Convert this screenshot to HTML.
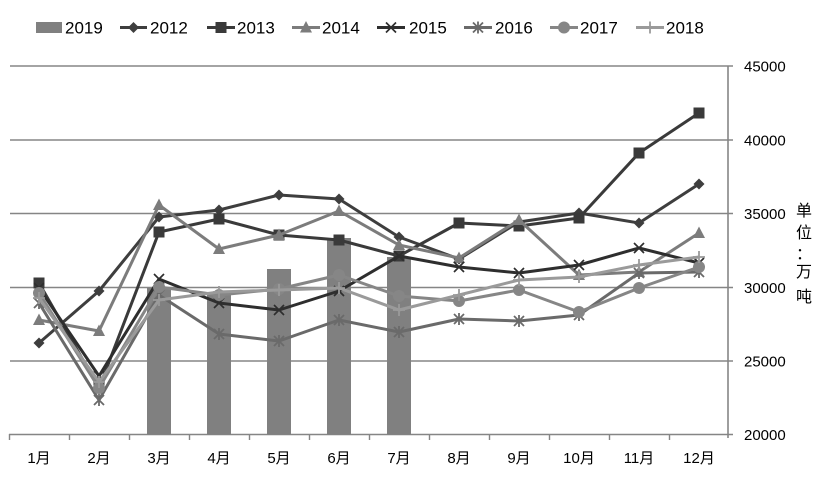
<!DOCTYPE html>
<html><head><meta charset="utf-8"><style>
html,body{margin:0;padding:0;background:#fff;}
svg{display:block;}
text{font-family:"Liberation Sans","Noto Sans CJK SC",sans-serif;fill:#000;}
</style></head><body>
<svg width="825" height="478" viewBox="0 0 825 478" xmlns="http://www.w3.org/2000/svg">
<defs>
<marker id="mD" markerUnits="userSpaceOnUse" markerWidth="14" markerHeight="14" refX="7" refY="7" overflow="visible"><path d="M7,1.5 L12.5,7 L7,12.5 L1.5,7 Z" fill="#3e3e3e"/></marker>
<marker id="mS" markerUnits="userSpaceOnUse" markerWidth="14" markerHeight="14" refX="7" refY="7" overflow="visible"><rect x="1.5" y="1.5" width="11" height="11" fill="#3a3a3a"/></marker>
<marker id="mT" markerUnits="userSpaceOnUse" markerWidth="14" markerHeight="14" refX="7" refY="7" overflow="visible"><path d="M7,0.5 L13,12 L1,12 Z" fill="#7c7c7c"/></marker>
<marker id="mX" markerUnits="userSpaceOnUse" markerWidth="14" markerHeight="14" refX="7" refY="7" overflow="visible"><path d="M2,2 L12,12 M12,2 L2,12" stroke="#2e2e2e" stroke-width="1.7"/></marker>
<marker id="mA" markerUnits="userSpaceOnUse" markerWidth="14" markerHeight="14" refX="7" refY="7" overflow="visible"><path d="M2,2 L12,12 M12,2 L2,12 M7,1 L7,13" stroke="#6a6a6a" stroke-width="1.8"/></marker>
<marker id="mC" markerUnits="userSpaceOnUse" markerWidth="14" markerHeight="14" refX="7" refY="7" overflow="visible"><circle cx="7" cy="7" r="6" fill="#868686"/></marker>
<marker id="mP" markerUnits="userSpaceOnUse" markerWidth="14" markerHeight="14" refX="7" refY="7" overflow="visible"><path d="M1,7 L13,7 M7,1 L7,13" stroke="#9a9a9a" stroke-width="1.8"/></marker>
</defs>

<g stroke="#858585" stroke-width="1.6">
<line x1="10" y1="66" x2="733" y2="66"/>
<line x1="10" y1="140" x2="733" y2="140"/>
<line x1="10" y1="213.5" x2="733" y2="213.5"/>
<line x1="10" y1="287.5" x2="733" y2="287.5"/>
<line x1="10" y1="361" x2="733" y2="361"/>
<line x1="9" y1="434.5" x2="733" y2="434.5"/>
<line x1="728" y1="66" x2="728" y2="438"/>
</g>
<g stroke="#858585" stroke-width="1.4">
<line x1="9.5" y1="434" x2="9.5" y2="440"/>
<line x1="69.5" y1="434" x2="69.5" y2="440"/>
<line x1="129.5" y1="434" x2="129.5" y2="440"/>
<line x1="189.5" y1="434" x2="189.5" y2="440"/>
<line x1="249.5" y1="434" x2="249.5" y2="440"/>
<line x1="309.5" y1="434" x2="309.5" y2="440"/>
<line x1="369.5" y1="434" x2="369.5" y2="440"/>
<line x1="429.5" y1="434" x2="429.5" y2="440"/>
<line x1="489.5" y1="434" x2="489.5" y2="440"/>
<line x1="549.5" y1="434" x2="549.5" y2="440"/>
<line x1="609.5" y1="434" x2="609.5" y2="440"/>
<line x1="669.5" y1="434" x2="669.5" y2="440"/>
</g>

<g fill="#808080">
<rect x="147" y="288" width="24" height="146.5"/>
<rect x="207" y="293" width="24" height="141.5"/>
<rect x="267" y="269" width="24" height="165.5"/>
<rect x="327" y="238" width="24" height="196.5"/>
<rect x="387" y="257" width="24" height="177.5"/>
</g>

<g fill="none" stroke-width="3" stroke-linejoin="round">
<polyline stroke="#3e3e3e" marker-start="url(#mD)" marker-mid="url(#mD)" marker-end="url(#mD)" points="39,343 99,291 159,217 219,210 279,195 339,199 399,237 459,259 519,222 579,213 639,223 699,184"/>
<polyline stroke="#3a3a3a" marker-start="url(#mS)" marker-mid="url(#mS)" marker-end="url(#mS)" points="39,283 99,388 159,232 219,219 279,235 339,240 399,256 459,223 519,226 579,218 639,153 699,113"/>
<polyline stroke="#7c7c7c" marker-start="url(#mT)" marker-mid="url(#mT)" marker-end="url(#mT)" points="39,320 99,331 159,205 219,249 279,235 339,211 399,245 459,258 519,220 579,275 639,272 699,233"/>
<polyline stroke="#2e2e2e" marker-start="url(#mX)" marker-mid="url(#mX)" marker-end="url(#mX)" points="39,288 99,376 159,279 219,303 279,310 339,291 399,256 459,267 519,273 579,265 639,248 699,263"/>
<polyline stroke="#6a6a6a" marker-start="url(#mA)" marker-mid="url(#mA)" marker-end="url(#mA)" points="39,303 99,400 159,295 219,334 279,341 339,320 399,332 459,319 519,321 579,315 639,273 699,272"/>
<polyline stroke="#868686" marker-start="url(#mC)" marker-mid="url(#mC)" marker-end="url(#mC)" points="39,293 99,388 159,287 219,295 279,289 339,275 399,296 459,301 519,290 579,312 639,288 699,267"/>
<polyline stroke="#9a9a9a" marker-start="url(#mP)" marker-mid="url(#mP)" marker-end="url(#mP)" points="39,298 99,382 159,300 219,292 279,290 339,288 399,310 459,295 519,280 579,277 639,265 699,257"/>
</g>

<rect x="36" y="22" width="26" height="11" fill="#808080"/>
<g fill="none" stroke-width="3">
<polyline stroke="#3e3e3e" marker-mid="url(#mD)" points="120,27.5 133.5,27.5 147,27.5"/>
<polyline stroke="#3a3a3a" marker-mid="url(#mS)" points="207,27.5 221,27.5 235,27.5"/>
<polyline stroke="#7c7c7c" marker-mid="url(#mT)" points="292,27.5 306,27.5 320,27.5"/>
<polyline stroke="#2e2e2e" marker-mid="url(#mX)" points="377,27.5 391,27.5 405,27.5"/>
<polyline stroke="#6a6a6a" marker-mid="url(#mA)" points="464,27.5 478,27.5 492,27.5"/>
<polyline stroke="#868686" marker-mid="url(#mC)" points="550,27.5 564,27.5 578,27.5"/>
<polyline stroke="#9a9a9a" marker-mid="url(#mP)" points="636,27.5 650,27.5 664,27.5"/>
</g>
<g font-size="17">
<text x="65" y="33.5">2019</text>
<text x="150" y="33.5">2012</text>
<text x="237" y="33.5">2013</text>
<text x="322" y="33.5">2014</text>
<text x="409" y="33.5">2015</text>
<text x="495" y="33.5">2016</text>
<text x="580" y="33.5">2017</text>
<text x="666" y="33.5">2018</text>
</g>

<g font-size="15">
<text x="744" y="71.5">45000</text>
<text x="744" y="145.5">40000</text>
<text x="744" y="219">35000</text>
<text x="744" y="293">30000</text>
<text x="744" y="366.5">25000</text>
<text x="744" y="440">20000</text>
</g>

<g font-size="16" text-anchor="middle">
<text x="804" y="216">单</text>
<text x="804" y="238">位</text>
<text x="804" y="259">：</text>
<text x="804" y="277">万</text>
<text x="804" y="302">吨</text>
</g>

<g font-size="15" text-anchor="middle">
<text x="39" y="463">1月</text>
<text x="99" y="463">2月</text>
<text x="159" y="463">3月</text>
<text x="219" y="463">4月</text>
<text x="279" y="463">5月</text>
<text x="339" y="463">6月</text>
<text x="399" y="463">7月</text>
<text x="459" y="463">8月</text>
<text x="519" y="463">9月</text>
<text x="579" y="463">10月</text>
<text x="639" y="463">11月</text>
<text x="699" y="463">12月</text>
</g>
</svg>
</body></html>
